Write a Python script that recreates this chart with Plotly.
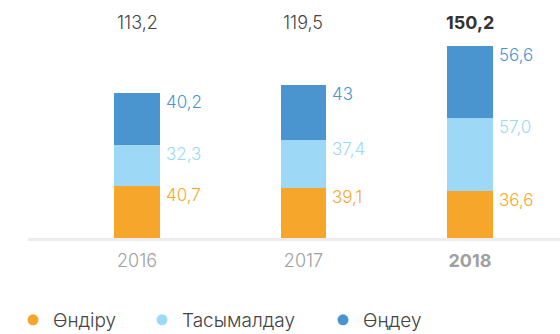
import plotly.graph_objects as go

# Values per segment, as printed on the chart (comma decimal)
years = ["2016", "2017", "2018"]
production = ["40,7", "39,1", "36,6"]    # Өндіру
transport = ["32,3", "37,4", "57,0"]     # Тасымалдау
processing = ["40,2", "43", "56,6"]      # Өңдеу
series_names = ["Өндіру", "Тасымалдау", "Өңдеу"]
series_colors = ["#F6A62B", "#9DD8F6", "#4A95D0"]
highlight_year = "2018"

FONT = "Inter"
W, H = 560, 334
PLOT_BOTTOM = 238          # pixel row of the baseline
PX_PER_UNIT = 1.28
BAR_W = 0.276


def to_num(s):
    return float(s.replace(",", "."))


def fmt(v):
    return f"{v:.1f}".replace(".", ",")


series_text = [production, transport, processing]
series_vals = [[to_num(s) for s in ser] for ser in series_text]
xs = list(range(len(years)))

fig = go.Figure()
for name, vals, color in zip(series_names, series_vals, series_colors):
    fig.add_trace(go.Bar(
        x=xs, y=vals, name=name, width=BAR_W,
        marker=dict(color=color, line=dict(width=0)),
        showlegend=False, hoverinfo="skip",
    ))

annotations = []
# segment value labels, to the right of each segment, aligned to its top
cum = [0.0] * len(years)
for texts, vals, color in zip(series_text, series_vals, series_colors):
    for i, (t, v) in enumerate(zip(texts, vals)):
        cum[i] += v
        annotations.append(dict(
            x=i + BAR_W / 2, y=cum[i], xref="x", yref="y",
            text=t, showarrow=False, xanchor="left", yanchor="top",
            xshift=4, yshift=3,
            font=dict(family=FONT, size=17, color=color, weight=300),
        ))

# totals above the columns
y_max = PLOT_BOTTOM / PX_PER_UNIT
totals = [sum(col) for col in zip(*series_vals)]
for i, (yr, tot) in enumerate(zip(years, totals)):
    txt = fmt(tot)
    bold = yr == highlight_year
    annotations.append(dict(
        x=i, y=(PLOT_BOTTOM - 22.5) / PLOT_BOTTOM, xref="x", yref="paper",
        text=txt, showarrow=False,
        xanchor="center", yanchor="middle",
        font=dict(family=FONT, size=18, color="#333333" if bold else "#444444",
                  weight=700 if bold else 300),
    ))

# legend: one small legend per series so each entry can sit at its own spot
legend_x = [33, 162, 343]
legend_keys = ["legend", "legend2", "legend3"]
for name, color, key in zip(series_names, series_colors, legend_keys):
    fig.add_trace(go.Scatter(
        x=[None], y=[None], mode="markers", name=name, legend=key,
        marker=dict(color=color, size=11, symbol="circle"),
        showlegend=True,
    ))

layout_legends = {}
for key, px in zip(legend_keys, legend_x):
    layout_legends[key] = dict(
        x=(px - 20) / W, y=1 - 320 / H, xref="container", yref="container",
        xanchor="left", yanchor="middle", orientation="h",
        bgcolor="rgba(0,0,0,0)", borderwidth=0,
        font=dict(family=FONT, size=19, color="#444444", weight=300),
        itemclick=False, itemdoubleclick=False,
    )

ticktext = [f"<b>{y}</b>" if y == highlight_year else y for y in years]

fig.update_layout(
    width=W, height=H,
    margin=dict(l=28, r=0, t=0, b=H - PLOT_BOTTOM),
    paper_bgcolor="white", plot_bgcolor="white",
    barmode="stack", bargap=0,
    showlegend=True,
    annotations=annotations,
    xaxis=dict(
        range=[-0.655, 2.541], tickvals=xs, ticktext=ticktext,
        showline=True, linecolor="#ececec", linewidth=3,
        showgrid=False, zeroline=False, ticks="",
        ticklabelstandoff=4,
        tickfont=dict(family=FONT, size=18, color="#a0a0a0", weight=300),
        fixedrange=True,
    ),
    yaxis=dict(range=[0, y_max], visible=False, fixedrange=True),
    **layout_legends,
)

fig.write_html("out.html")
